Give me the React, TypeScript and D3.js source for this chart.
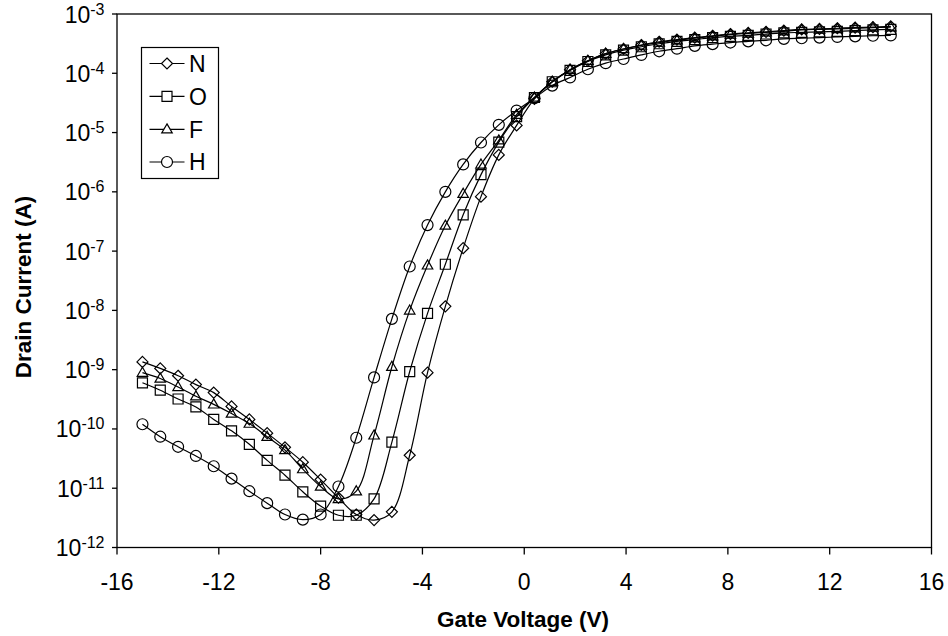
import React from "react";
import * as d3 from "d3";

const GATE_VOLTAGE = [-15, -14.3, -13.6, -12.9, -12.2, -11.5, -10.8, -10.1, -9.4, -8.7, -8, -7.3, -6.6, -5.9, -5.2, -4.5, -3.8, -3.1, -2.4, -1.7, -1, -0.3, 0.4, 1.1, 1.8, 2.5, 3.2, 3.9, 4.6, 5.3, 6, 6.7, 7.4, 8.1, 8.8, 9.5, 10.2, 10.9, 11.6, 12.3, 13, 13.7, 14.4];

const N_CURRENT = [1.35e-9, 1.05e-9, 7.9e-10, 5.6e-10, 4.1e-10, 2.4e-10, 1.45e-10, 8.5e-11, 4.9e-11, 2.75e-11, 1.4e-11, 6.9e-12, 3.6e-12, 2.9e-12, 4.0e-12, 3.6e-11, 8.9e-10, 1.17e-8, 1.12e-7, 8.3e-7, 4.2e-6, 1.32e-5, 3.7e-5, 7.2e-5, 1.15e-4, 1.62e-4, 2.14e-4, 2.57e-4, 3.0e-4, 3.4e-4, 3.7e-4, 4.0e-4, 4.3e-4, 4.6e-4, 4.8e-4, 5.0e-4, 5.25e-4, 5.5e-4, 5.6e-4, 5.75e-4, 5.9e-4, 6.0e-4, 6.2e-4];

const O_CURRENT = [6.0e-10, 4.5e-10, 3.2e-10, 2.35e-10, 1.45e-10, 9.3e-11, 5.5e-11, 2.95e-11, 1.66e-11, 8.7e-12, 5.0e-12, 3.5e-12, 3.5e-12, 6.6e-12, 6.0e-11, 9.3e-10, 8.9e-9, 6.0e-8, 4.1e-7, 1.95e-6, 6.9e-6, 1.86e-5, 3.9e-5, 7.2e-5, 1.12e-4, 1.58e-4, 2.04e-4, 2.45e-4, 2.8e-4, 3.15e-4, 3.45e-4, 3.7e-4, 4.0e-4, 4.2e-4, 4.35e-4, 4.6e-4, 4.8e-4, 4.9e-4, 5.0e-4, 5.1e-4, 5.25e-4, 5.4e-4, 5.5e-4];

const F_CURRENT = [8.9e-10, 7.1e-10, 5.1e-10, 3.55e-10, 2.6e-10, 1.82e-10, 1.23e-10, 7.4e-11, 4.4e-11, 2.1e-11, 1.07e-11, 6.6e-12, 8.9e-12, 7.8e-11, 1.12e-9, 1.0e-8, 5.75e-8, 2.7e-7, 9.3e-7, 2.9e-6, 7.4e-6, 2.0e-5, 3.9e-5, 7.2e-5, 1.15e-4, 1.62e-4, 2.14e-4, 2.57e-4, 2.95e-4, 3.3e-4, 3.6e-4, 3.9e-4, 4.2e-4, 4.5e-4, 4.7e-4, 4.9e-4, 5.1e-4, 5.4e-4, 5.5e-4, 5.6e-4, 5.75e-4, 5.9e-4, 6.0e-4];

const H_CURRENT = [1.2e-10, 7.4e-11, 5.0e-11, 3.5e-11, 2.35e-11, 1.45e-11, 8.9e-12, 5.6e-12, 3.6e-12, 2.95e-12, 3.6e-12, 1.07e-11, 7.1e-11, 7.4e-10, 7.2e-9, 5.5e-8, 2.75e-7, 1.0e-6, 2.9e-6, 6.8e-6, 1.35e-5, 2.35e-5, 3.8e-5, 6.2e-5, 8.5e-5, 1.17e-4, 1.48e-4, 1.74e-4, 2.04e-4, 2.35e-4, 2.6e-4, 2.9e-4, 3.1e-4, 3.3e-4, 3.45e-4, 3.6e-4, 3.8e-4, 3.9e-4, 4.0e-4, 4.1e-4, 4.2e-4, 4.3e-4, 4.35e-4];

const SERIES_NAMES = ["N", "O", "F", "H"];
const SERIES_MARKERS = ["diamond", "square", "triangle", "circle"];
const SERIES_VALUES = [N_CURRENT, O_CURRENT, F_CURRENT, H_CURRENT];

const X_TICKS = [-16, -12, -8, -4, 0, 4, 8, 12, 16];
const Y_TICK_EXPONENTS = [-12, -11, -10, -9, -8, -7, -6, -5, -4, -3];

const FONT = "'Liberation Sans', Arial, Helvetica, sans-serif";

function markerPath(type: string): string {
  switch (type) {
    case "diamond": {
      const h = 5.5;
      return `M0,${-h}L${h},0L0,${h}L${-h},0Z`;
    }
    case "square": {
      const h = 5;
      return `M${-h},${-h}H${h}V${h}H${-h}Z`;
    }
    case "triangle": {
      const s = 10.5;
      const ht = (s * Math.sqrt(3)) / 2;
      return `M0,${-ht * 0.6}L${s / 2},${ht * 0.4}L${-s / 2},${ht * 0.4}Z`;
    }
    default: {
      const r = 5.5;
      return `M${-r},0A${r},${r} 0 1,0 ${r},0A${r},${r} 0 1,0 ${-r},0Z`;
    }
  }
}

export default function App() {
  const left = 117;
  const right = 931.5;
  const top = 14;
  const bottom = 547.5;

  const x = d3.scaleLinear().domain([-16, 16]).range([left, right]);
  const y = d3.scaleLog().domain([1e-12, 1e-3]).range([bottom, top]);

  const line = d3
    .line<[number, number]>()
    .x((d) => x(d[0]))
    .y((d) => y(d[1]))
    .curve(d3.curveCatmullRom.alpha(0.5));

  const legendX = 141.5;
  const legendY = 47.5;
  const legendW = 77;
  const legendH = 131;
  const legendRowY = [63.5, 96.3, 129.3, 162];

  return (
    <svg
      width={948}
      height={636}
      style={{ position: "absolute", left: 0, top: 0, background: "#fff" }}
      fontFamily={FONT}
    >
      <rect x={0} y={0} width={948} height={636} fill="#fff" />
      {/* plot frame */}
      <rect x={left} y={top} width={right - left} height={bottom - top} fill="none" stroke="#000" strokeWidth={1.3} />

      {/* x ticks */}
      {X_TICKS.map((t) => (
        <g key={`xt${t}`}>
          <line x1={x(t)} x2={x(t)} y1={bottom} y2={bottom + 7} stroke="#000" strokeWidth={1.3} />
          <text x={x(t)} y={590} textAnchor="middle" fontSize={23} fill="#000">
            {t}
          </text>
        </g>
      ))}

      {/* y ticks */}
      {Y_TICK_EXPONENTS.map((e) => {
        const yy = y(Math.pow(10, e));
        return (
          <g key={`yt${e}`}>
            <line x1={left - 5} x2={left} y1={yy} y2={yy} stroke="#000" strokeWidth={1.3} />
            <text x={104.5} y={yy + 8.5} textAnchor="end" fontSize={23} fill="#000">
              10
              <tspan dy={-8} fontSize={16}>
                {e}
              </tspan>
            </text>
          </g>
        );
      })}

      {/* axis titles */}
      <text x={523} y={627} textAnchor="middle" fontSize={22.5} fontWeight="bold" fill="#000">
        Gate Voltage (V)
      </text>
      <text
        transform={`translate(31,287) rotate(-90)`}
        textAnchor="middle"
        fontSize={22.5}
        fontWeight="bold"
        fill="#000"
      >
        Drain Current (A)
      </text>

      {/* series */}
      {SERIES_VALUES.map((vals, i) => {
        const pts: [number, number][] = GATE_VOLTAGE.map((v, k) => [v, vals[k]]);
        return (
          <g key={SERIES_NAMES[i]}>
            <path d={line(pts) || ""} fill="none" stroke="#000" strokeWidth={1.2} />
            {pts.map((p, k) => (
              <path
                key={k}
                d={markerPath(SERIES_MARKERS[i])}
                transform={`translate(${x(p[0])},${y(p[1])})`}
                fill="none"
                stroke="#000"
                strokeWidth={1.2}
              />
            ))}
          </g>
        );
      })}

      {/* legend */}
      <rect x={legendX} y={legendY} width={legendW} height={legendH} fill="#fff" stroke="#000" strokeWidth={1.2} />
      {SERIES_NAMES.map((name, i) => (
        <g key={`lg${name}`}>
          <line x1={149.5} x2={184.5} y1={legendRowY[i]} y2={legendRowY[i]} stroke="#000" strokeWidth={1.2} />
          <path
            d={markerPath(SERIES_MARKERS[i])}
            transform={`translate(167,${legendRowY[i]})`}
            fill="#fff"
            stroke="#000"
            strokeWidth={1.2}
          />
          <text x={189} y={legendRowY[i] + 8.3} fontSize={23} fill="#000">
            {name}
          </text>
        </g>
      ))}
    </svg>
  );
}
